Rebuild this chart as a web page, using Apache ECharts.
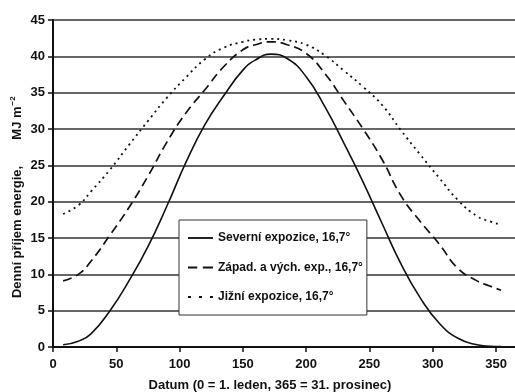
<!DOCTYPE html>
<html>
<head>
<meta charset="utf-8">
<script src="https://cdn.jsdelivr.net/npm/echarts@6/dist/echarts.min.js"></script>
<style>html,body{margin:0;padding:0;background:#fff}#c{width:515px;height:392px}</style>
</head>
<body>
<div id="c"></div>
<script>
var days    = [8, 20, 30, 45, 60, 75, 90, 105, 120, 135, 150, 160, 172, 185, 200, 215, 230, 245, 260, 275, 290, 305, 320, 335, 345, 354];
var severni = [0.3, 0.8, 1.8, 5.0, 9.1, 13.8, 19.4, 25.4, 30.6, 34.6, 38.1, 39.5, 40.3, 39.7, 37.2, 33.0, 28.0, 22.7, 17.0, 11.4, 6.8, 3.3, 1.2, 0.3, 0.1, 0.05];
var zapad   = [9.1, 10.0, 11.8, 15.4, 19.2, 23.5, 28.2, 32.2, 35.4, 38.6, 40.9, 41.6, 42.0, 41.6, 40.4, 37.6, 33.8, 30.0, 25.8, 20.8, 17.3, 14.2, 10.8, 9.1, 8.4, 7.8];
var jizni   = [18.3, 19.5, 21.4, 24.4, 27.8, 31.1, 34.3, 37.1, 39.6, 41.2, 42.0, 42.3, 42.4, 42.2, 41.6, 40.1, 38.0, 35.8, 33.3, 29.8, 26.5, 23.3, 20.2, 18.0, 17.3, 16.8];
var seriesNames = ['Severní expozice, 16,7°', 'Západ. a vých. exp., 16,7°', 'Jižní expozice, 16,7°'];
var xTitle = 'Datum (0 = 1. leden, 365 = 31. prosinec)';
var yTitleMain = 'Denní příjem energie,';
var yTitleUnit = 'MJ m';
var yTitleSup = '−2';

function pairs(vals) { return days.map(function (d, i) { return [d, vals[i]]; }); }

var FONT = '"Liberation Sans", Arial, sans-serif';
var icons = [
  'path://M0,0h27v2h-27z',
  'path://M0,0h10v2h-10zM16,0h11v2h-11z',
  'path://M0,0h3v2h-3zM11,0h3v2h-3zM22,0h3v2h-3z'
];
var chart = echarts.init(document.getElementById('c'), null, {renderer: 'canvas'});
chart.setOption({
  animation: false,
  backgroundColor: '#fff',
  grid: {left: 53, top: 20, bottom: 45, right: -2, containLabel: false},
  xAxis: {
    type: 'value', min: 0, max: 365, interval: 50,
    axisLine: {lineStyle: {color: '#111', width: 2}},
    axisTick: {show: true, length: 5, lineStyle: {color: '#111', width: 1.5}},
    axisLabel: {margin: 11, color: '#111', fontSize: 13, fontWeight: 'bold', fontFamily: FONT, showMaxLabel: false},
    splitLine: {show: false}
  },
  yAxis: {
    type: 'value', min: 0, max: 45, interval: 5,
    axisLine: {show: true, lineStyle: {color: '#111', width: 2}},
    axisTick: {show: true, length: 5, lineStyle: {color: '#111', width: 1.5}},
    axisLabel: {margin: 8, color: '#111', fontSize: 13, fontWeight: 'bold', fontFamily: FONT},
    splitLine: {show: true, lineStyle: {color: '#333', width: 1.5}}
  },
  legend: {
    orient: 'vertical', left: 179, top: 220,
    padding: [12, 4, 12, 9], itemGap: 17.5, itemWidth: 25, itemHeight: 2,
    backgroundColor: '#fff', borderColor: '#333', borderWidth: 1,
    textStyle: {color: '#111', fontSize: 12, fontWeight: 'bold', fontFamily: FONT},
    data: seriesNames.map(function (n, i) { return {name: n, icon: icons[i]}; })
  },
  graphic: [
    {type: 'text', x: 270, y: 385, silent: true,
     style: {text: xTitle, fill: '#111', font: 'bold 13px ' + FONT, align: 'center', verticalAlign: 'middle'}},
    {type: 'text', x: 17, y: 232, rotation: Math.PI / 2, silent: true,
     style: {text: yTitleMain, fill: '#111', font: 'bold 13px ' + FONT, align: 'center', verticalAlign: 'middle'}},
    {type: 'text', x: 17, y: 118, rotation: Math.PI / 2, silent: true,
     style: {text: yTitleUnit + '{s|' + yTitleSup + '}', fill: '#111', font: 'bold 13px ' + FONT, align: 'center', verticalAlign: 'middle',
       rich: {s: {fontSize: 8, fontWeight: 'bold', fontFamily: FONT, fill: '#111', verticalAlign: 'top', padding: [0, 0, 8, 1]}}}}
  ],
  series: [
    {name: seriesNames[0], type: 'line', smooth: 0.5, symbol: 'none', data: pairs(severni),
     lineStyle: {color: '#111', width: 1.6, type: 'solid'}, itemStyle: {color: '#111'}},
    {name: seriesNames[1], type: 'line', smooth: 0.5, symbol: 'none', data: pairs(zapad),
     lineStyle: {color: '#111', width: 1.7, type: [9, 5]}, itemStyle: {color: '#111'}},
    {name: seriesNames[2], type: 'line', smooth: 0.5, symbol: 'none', data: pairs(jizni),
     lineStyle: {color: '#111', width: 1.8, type: [2, 4]}, itemStyle: {color: '#111'}}
  ]
});
</script>
</body>
</html>
